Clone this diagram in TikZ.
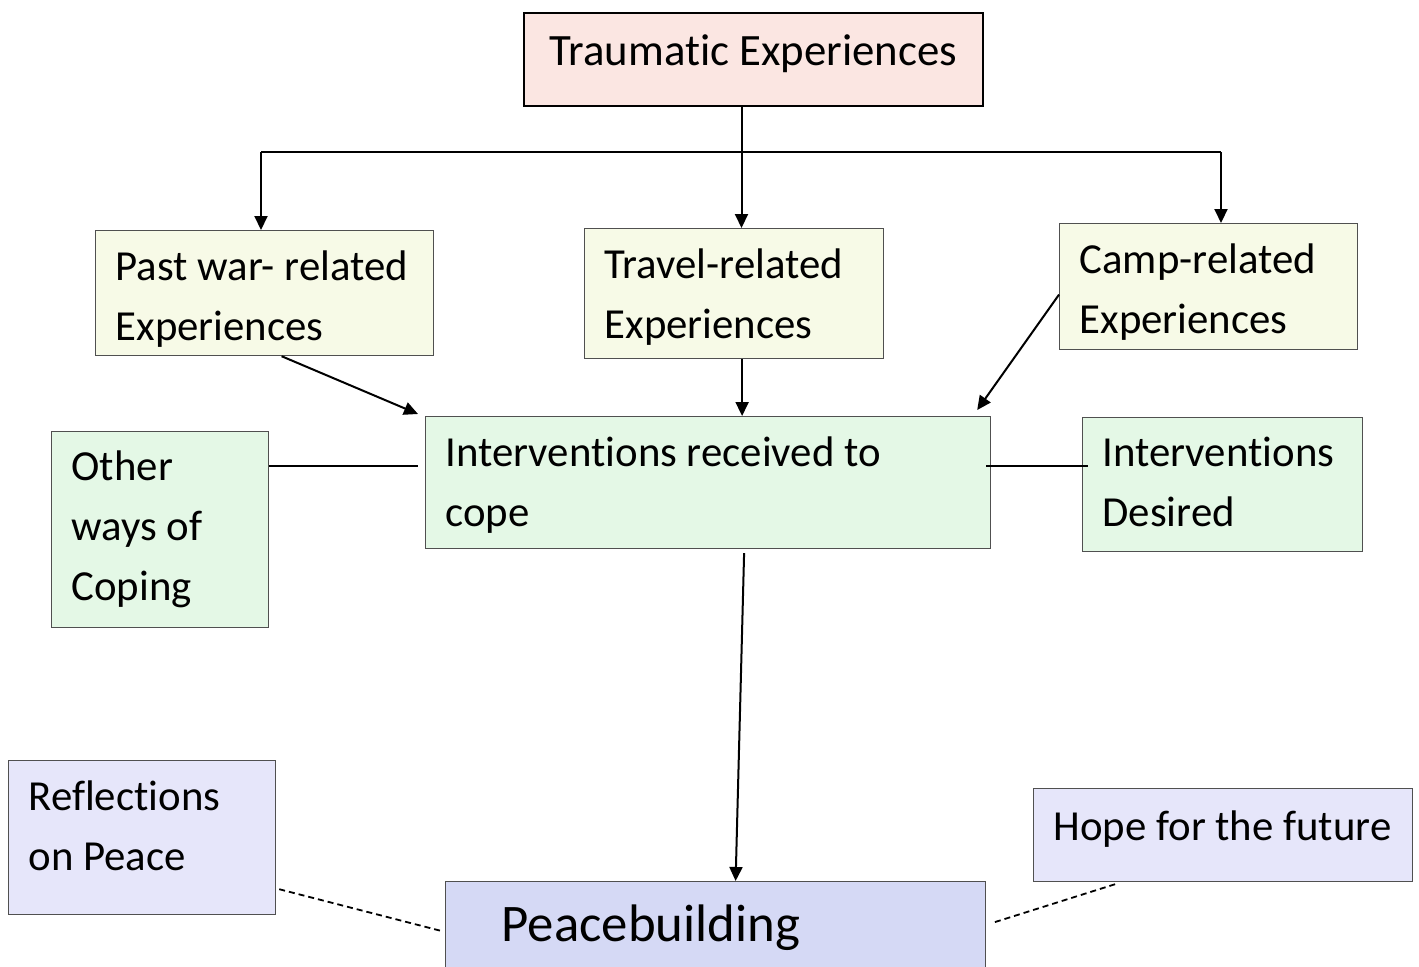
\documentclass[tikz,border=0pt]{standalone}
\usepackage{fontspec}
\setmainfont{Carlito}[Ligatures=NoCommon]
\usepackage{tikz}
\usetikzlibrary{positioning, calc, arrows.meta}

\definecolor{traumafill}{RGB}{251,230,226}
\definecolor{expfill}{RGB}{247,250,231}
\definecolor{copefill}{RGB}{228,248,230}
\definecolor{peacefill}{RGB}{230,230,250}
\definecolor{peacemain}{RGB}{213,217,245}
\definecolor{edgegray}{RGB}{80,80,80}

% left padding of each text line, and struts for the first / last line
\newcommand{\lpad}{\hspace*{10pt}}
\newcommand{\topgap}[1]{\rule{0pt}{#1}}
\newcommand{\botgap}[1]{\rule[-#1]{0pt}{0pt}}

\tikzset{
  box/.style={draw=edgegray, line width=0.6pt, rectangle, anchor=north west,
              align=flush left, inner xsep=0pt, inner ysep=0pt,
              font=\fontsize{21.4}{30}\selectfont},
  arr/.style={-{Triangle[length=7pt,width=6.5pt]}, line width=1pt},
  link/.style={line width=1pt},
  dotlink/.style={line width=0.9pt, dash pattern=on 3pt off 2pt}
}

\begin{document}
\begin{tikzpicture}[x=0.5pt, y=-0.5pt]

    \useasboundingbox (0,0) rectangle (1419,966);

    % Top box
    \node[box, draw=black, line width=1pt, fill=traumafill, align=flush center,
          text width=229.5pt, minimum height=46.5pt, font=\fontsize{22.4}{30}\selectfont]
          (trauma) at (523,12) {\topgap{21pt}Traumatic Experiences\botgap{15.5pt}};

    % Kinds of experiences
    \node[box, fill=expfill, text width=169pt, minimum height=62.5pt] (past) at (95,230)
          {\lpad\topgap{23.5pt}Past war- related\\\lpad Experiences\botgap{6pt}};
    \node[box, fill=expfill, text width=149.5pt, minimum height=65pt] (travel) at (584,228)
          {\lpad\topgap{21pt}Travel-related\\\lpad Experiences\botgap{6pt}};
    \node[box, fill=expfill, text width=149pt, minimum height=63pt] (camp) at (1059,223)
          {\lpad\topgap{23pt}Camp-related\\\lpad Experiences\botgap{6pt}};

    % Coping row
    \node[box, fill=copefill, text width=108.5pt, minimum height=98pt] (other) at (51,431)
          {\lpad\topgap{20pt}Other\\\lpad ways of\\\lpad Coping\botgap{9pt}};
    \node[box, fill=copefill, text width=282.5pt, minimum height=66pt] (interv) at (425,416)
          {\lpad\topgap{20pt}Interventions received to\\\lpad cope\botgap{6pt}};
    \node[box, fill=copefill, text width=140pt, minimum height=67pt] (desired) at (1082,417)
          {\lpad\topgap{21pt}Interventions\\\lpad Desired\botgap{9pt}};

    % Peace row
    \node[box, fill=peacefill, text width=133.5pt, minimum height=77pt] (reflect) at (8,760)
          {\lpad\topgap{21pt}Reflections\\\lpad on Peace\botgap{18pt}};
    \node[box, fill=peacefill, text width=189.5pt, minimum height=46.5pt] (hope) at (1033,788)
          {\lpad\topgap{21pt}Hope for the future\botgap{15.5pt}};
    \node[box, fill=peacemain, text width=270pt, minimum height=45pt,
          font=\fontsize{26.4}{32}\selectfont] (peace) at (445,881)
          {\hspace*{28pt}\topgap{25pt}Peacebuilding\botgap{10pt}};

    % Branching bus under the top box
    \coordinate (busL) at (261,152);
    \coordinate (busR) at (1221,152);
    \draw[link] (busL) -- (busR);
    \draw[arr] ([xshift=-6pt]trauma.south) -- ([xshift=-6pt]trauma.south |- travel.north);
    \draw[arr] (busL) -- (busL |- past.north);
    \draw[arr] (busR) -- (busR |- camp.north);

    % Experiences into interventions
    \draw[arr] ([xshift=8.5pt]past.south) -- ([xshift=-3.5pt,yshift=1pt]interv.north west);
    \draw[arr] ([xshift=4pt]travel.south) -- ([xshift=4pt]travel.south |- interv.north);
    \draw[arr] ([yshift=-4pt]camp.west) -- ([xshift=-7pt,yshift=3pt]interv.north east);

    % Side links
    \draw[link, shorten >=3.5pt] ([yshift=32pt]other.east) -- ([yshift=32pt]other.east -| interv.west);
    \draw[link, shorten <=-2.5pt, shorten >=-3pt] ([yshift=8.5pt]interv.east) -- ([yshift=8.5pt]interv.east -| desired.west);

    % Down to peacebuilding
    \draw[arr] ([xshift=18pt,yshift=-2pt]interv.south) -- ([xshift=10pt]peace.north);
    \draw[dotlink] ([xshift=1.5pt,yshift=13pt]reflect.south east) -- ([xshift=-2.5pt,yshift=-2pt]peace.west);
    \draw[dotlink] ([xshift=-54pt,yshift=-1pt]hope.south) -- ([xshift=3.5pt,yshift=2pt]peace.east);

\end{tikzpicture}
\end{document}
